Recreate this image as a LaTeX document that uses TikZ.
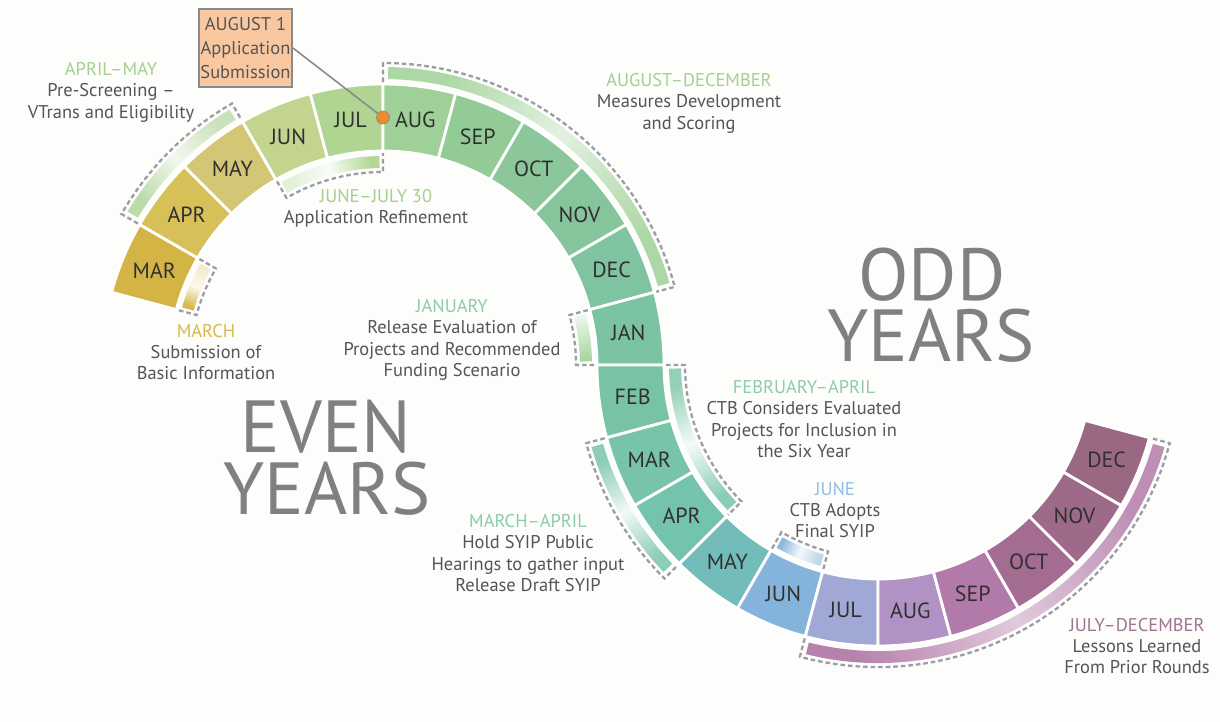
\documentclass[tikz,border=0pt]{standalone}
\usepackage{fontspec}
\setmainfont{PT Sans}
\definecolor{bgcol}{HTML}{FDFDFB}
\definecolor{monthtext}{HTML}{303030}
\definecolor{notegray}{HTML}{555555}
\definecolor{yeargray}{HTML}{808080}
\definecolor{dashgray}{HTML}{9C9CA8}
\definecolor{boxfill}{HTML}{F9C8A0}
\definecolor{boxedge}{HTML}{8A8A8A}
\definecolor{dotorange}{HTML}{EE8A30}
\definecolor{hdgold}{HTML}{D8B850}
\definecolor{hdgreen}{HTML}{A6CF8E}
\definecolor{hdteal}{HTML}{8ECBAA}
\definecolor{hdblue}{HTML}{92BCE3}
\definecolor{hdmauve}{HTML}{A07490}
\definecolor{ua}{HTML}{D4B444}
\definecolor{ub}{HTML}{D7C058}
\definecolor{uc}{HTML}{D3C675}
\definecolor{ud}{HTML}{C3D48E}
\definecolor{ue}{HTML}{B0D592}
\definecolor{uf}{HTML}{9FD097}
\definecolor{ug}{HTML}{93CB97}
\definecolor{uh}{HTML}{8BC79A}
\definecolor{ui}{HTML}{86C59C}
\definecolor{uj}{HTML}{80C3A0}
\definecolor{uk}{HTML}{7CC3A3}
\definecolor{la}{HTML}{79C3A5}
\definecolor{lb}{HTML}{78C4A8}
\definecolor{lc}{HTML}{74C3AC}
\definecolor{ld}{HTML}{72BDBA}
\definecolor{le}{HTML}{84B4DC}
\definecolor{lf}{HTML}{A0A8D6}
\definecolor{lg}{HTML}{B093C4}
\definecolor{lh}{HTML}{B27AA8}
\definecolor{li}{HTML}{A46C90}
\definecolor{lj}{HTML}{9E6A8A}
\definecolor{lk}{HTML}{9A6882}

\begin{document}
\begin{tikzpicture}[x=0.02cm, y=-0.02cm,
   seg/.style={draw=white, line width=1.6pt},
   monthlbl/.style={text=monthtext, font=\fontsize{12.5}{14}\selectfont, inner sep=0pt},
   bandline/.style={draw=dashgray, line width=1.3pt, dash pattern=on 2.6pt off 1.7pt},
   note/.style={align=center, text=notegray, font=\fontsize{10.5}{12.2}\selectfont, inner sep=0pt},
   bigyear/.style={text=yeargray, font=\fontsize{42}{42}\selectfont, inner sep=0pt}]

   \fill[bgcol] (0,0) rectangle (1220,721);

   \begin{scope}[shift={(383,365)}, yscale=-1]
      \foreach \a/\m/\c [count=\i] in {165/MAR/ua, 150/APR/ub, 135/MAY/uc, 120/JUN/ud, 105/JUL/ue, 90/AUG/uf, 75/SEP/ug, 60/OCT/uh, 45/NOV/ui, 30/DEC/uj, 15/JAN/uk}{
         \filldraw[seg, fill=\c] (\a:214) arc[start angle=\a, end angle=\a-15, radius=214]
            -- ({\a-15}:281) arc[start angle=\a-15, end angle=\a, radius=281] -- cycle;
         \node[monthlbl] (e\i) at ({\a-7.5}:247.5) {\m};
      }
      \shade[top color=hdgreen!60, bottom color=hdgreen!75, middle color=hdgreen!15, shading angle=-45]
         (149:286) arc[start angle=149, end angle=121, radius=286] -- (121:298) arc[start angle=121, end angle=149, radius=298] -- cycle;
      \draw[bandline] (150:283) -- (150:302) arc[start angle=150, end angle=120, radius=302] -- (120:283);
      \shade[top color=ua!25, bottom color=ua!95, middle color=ua!10, shading angle=-22.5]
         (151:197) arc[start angle=151, end angle=164, radius=197] -- (164:209) arc[start angle=164, end angle=151, radius=209] -- cycle;
      \draw[bandline] (150:212) -- (150:193) arc[start angle=150, end angle=165, radius=193] -- (165:212);
      \shade[top color=ue!95, bottom color=ue!35, middle color=ue!8, shading angle=-75]
         (119:197) arc[start angle=119, end angle=91, radius=197] -- (91:209) arc[start angle=91, end angle=119, radius=209] -- cycle;
      \draw[bandline] (120:212) -- (120:193) arc[start angle=120, end angle=90, radius=193] -- (90:212);
      \shade[top color=uf!85, bottom color=uf!85, middle color=uf!30, shading angle=-127.5]
         (89:286) arc[start angle=89, end angle=16, radius=286] -- (16:298) arc[start angle=16, end angle=89, radius=298] -- cycle;
      \draw[bandline] (90:283) -- (90:302) arc[start angle=90, end angle=15, radius=302] -- (15:283);
      \shade[top color=uf!20, bottom color=uf!90, shading angle=7.5]
         (14:197) arc[start angle=14, end angle=1, radius=197] -- (1:209) arc[start angle=1, end angle=14, radius=209] -- cycle;
      \draw[bandline] (15:212) -- (15:193) arc[start angle=15, end angle=0, radius=193] -- (0:212);
   \end{scope}

   \begin{scope}[shift={(878,365)}, yscale=-1]
      \foreach \a/\m/\c [count=\i] in {180/FEB/la, 195/MAR/lb, 210/APR/lc, 225/MAY/ld, 240/JUN/le, 255/JUL/lf, 270/AUG/lg, 285/SEP/lh, 300/OCT/li, 315/NOV/lj, 330/DEC/lk}{
         \filldraw[seg, fill=\c] (\a:214) arc[start angle=\a, end angle=\a+15, radius=214]
            -- ({\a+15}:281) arc[start angle=\a+15, end angle=\a, radius=281] -- cycle;
         \node[monthlbl] (o\i) at ({\a+7.5}:247.5) {\m};
      }
      \shade[top color=la!80, bottom color=lc!85, middle color=la!8, shading angle=22.5]
         (181:197) arc[start angle=181, end angle=224, radius=197] -- (224:209) arc[start angle=224, end angle=181, radius=209] -- cycle;
      \draw[bandline] (180:212) -- (180:193) arc[start angle=180, end angle=225, radius=193] -- (225:212);
      \shade[top color=lb!85, bottom color=lb!85, middle color=lb!10, shading angle=30]
         (196:286) arc[start angle=196, end angle=224, radius=286] -- (224:298) arc[start angle=224, end angle=196, radius=298] -- cycle;
      \draw[bandline] (195:283) -- (195:302) arc[start angle=195, end angle=225, radius=302] -- (225:283);
      \shade[top color=le!95, bottom color=le!55, middle color=le!10, shading angle=67.5]
         (241:197) arc[start angle=241, end angle=254, radius=197] -- (254:209) arc[start angle=254, end angle=241, radius=209] -- cycle;
      \draw[bandline] (240:212) -- (240:193) arc[start angle=240, end angle=255, radius=193] -- (255:212);
      \shade[top color=lh!95, bottom color=lh!85, middle color=lh!40, shading angle=120]
         (256:286) arc[start angle=256, end angle=344, radius=286] -- (344:298) arc[start angle=344, end angle=256, radius=298] -- cycle;
      \draw[bandline] (255:283) -- (255:302) arc[start angle=255, end angle=345, radius=302] -- (345:283);
   \end{scope}

   \node[note, font=\fontsize{10.5}{13.4}\selectfont, draw=boxedge, line width=1.1pt, fill=boxfill, inner sep=0pt, minimum width=1.86cm, minimum height=1.56cm] (aug1) at (245.5,48) {AUGUST 1\\Application\\Submission};
   \node[circle, fill=dotorange, draw=boxedge, line width=0.4pt, minimum size=0.26cm, inner sep=0pt] (augdot) at (383,117.5) {};
   \draw[boxedge, line width=0.9pt] (aug1.east) -- (augdot);

   \node[note] (aprmay) at (111,92) {\textcolor{hdgreen}{APRIL--MAY}\\Pre-Screening --\\VTrans and Eligibility};
   \node[note] (augdec) at (689,103) {\textcolor{hdgreen}{AUGUST--DECEMBER}\\Measures Development\\and Scoring};
   \node[note] (junjul) at (376,208) {\textcolor{hdgreen}{JUNE--JULY 30}\\Application Refinement};
   \node[note] (march) at (206,352) {\textcolor{hdgold}{MARCH}\\Submission of\\Basic Information};
   \node[note] (january) at (452,340) {\textcolor{hdteal}{JANUARY}\\Release Evaluation of\\Projects and Recommended\\Funding Scenario};
   \node[note] (febapr) at (804,419) {\textcolor{hdteal}{FEBRUARY--APRIL}\\CTB Considers Evaluated\\Projects for Inclusion in\\the Six Year};
   \node[note] (marapr) at (528,553) {\textcolor{hdteal}{MARCH--APRIL}\\Hold SYIP Public\\Hearings to gather input\\Release Draft SYIP};
   \node[note] (june) at (835,510) {\textcolor{hdblue}{JUNE}\\CTB Adopts\\Final SYIP};
   \node[note] (juldec) at (1137,646) {\textcolor{hdmauve}{JULY--DECEMBER}\\Lessons Learned\\From Prior Rounds};

   \node[bigyear] (even) at (326,427) {EVEN};
   \node[bigyear] (evenyr) at (327,489) {YEARS};
   \node[bigyear] (odd) at (932,275) {ODD};
   \node[bigyear] (oddyr) at (931,336) {YEARS};
\end{tikzpicture}
\end{document}
